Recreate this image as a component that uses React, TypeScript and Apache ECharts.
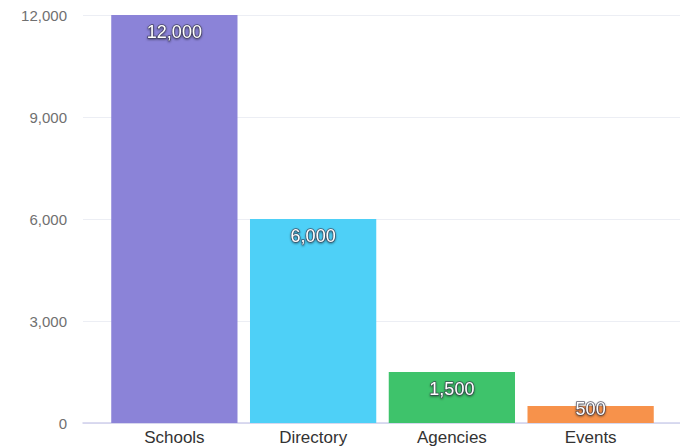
import React, { useEffect, useRef } from "react";
import * as echarts from "echarts";

const categories = ["Schools", "Directory", "Agencies", "Events"];
const values = [12000, 6000, 1500, 500];
const barColors = ["#8b83d8", "#4ed0f7", "#3ec36b", "#f7924b"];
const yTicks = [0, 3000, 6000, 9000, 12000];

export default function App() {
  const ref = useRef<HTMLDivElement>(null);
  useEffect(() => {
    if (!ref.current) return;
    const chart = echarts.init(ref.current, null, { renderer: "svg" });
    const fmt = (v: number) => v.toLocaleString("en-US");
    chart.setOption({
      animation: false,
      textStyle: { fontFamily: "Liberation Sans, Arial, sans-serif" },
      grid: [
        { left: 105, right: 20, top: 15, bottom: 25 },
        { left: 83, right: 0, top: 15, bottom: 25 },
      ],
      xAxis: [
        {
          type: "category",
          gridIndex: 0,
          data: categories,
          axisLine: { show: false },
          axisTick: { show: false },
          axisLabel: { color: "#333", fontSize: 17, margin: 6 },
        },
        {
          type: "category",
          gridIndex: 1,
          data: [""],
          axisLine: { show: true, lineStyle: { color: "#cfd0ec", width: 1.5 } },
          axisTick: { show: false },
          axisLabel: { show: false },
        },
      ],
      yAxis: [
        {
          type: "value",
          gridIndex: 0,
          min: yTicks[0],
          max: yTicks[yTicks.length - 1],
          interval: 3000,
          axisLine: { show: false },
          axisTick: { show: false },
          splitLine: { show: false },
          axisLabel: {
            color: "#707070",
            fontSize: 15,
            margin: 38,
            formatter: (v: number) => fmt(v),
          },
        },
        {
          type: "value",
          gridIndex: 1,
          min: yTicks[0],
          max: yTicks[yTicks.length - 1],
          interval: 3000,
          axisLine: { show: false },
          axisTick: { show: false },
          axisLabel: { show: false },
          splitLine: { show: true, lineStyle: { color: "#eceef4", width: 1 } },
        },
      ],
      series: [
        {
          type: "bar",
          xAxisIndex: 0,
          yAxisIndex: 0,
          barCategoryGap: "9%",
          z: 3,
          data: values.map((v, i) => ({
            value: v,
            itemStyle: { color: barColors[i] },
            label: i === values.length - 1 ? { distance: -6 } : undefined,
          })),
          label: {
            show: true,
            position: "insideTop",
            distance: 8,
            color: "#fff",
            fontSize: 18,
            textBorderColor: "rgba(55,55,75,0.75)",
            textBorderWidth: 1.5,
            textShadowColor: "rgba(0,0,0,0.5)",
            textShadowBlur: 2,
            textShadowOffsetY: 1,
            formatter: (p: any) => fmt(p.value),
          },
        },
      ],
    });
    return () => chart.dispose();
  }, []);
  return <div ref={ref} style={{ width: 680, height: 448, position: "absolute", left: 0, top: 0 }} />;
}
